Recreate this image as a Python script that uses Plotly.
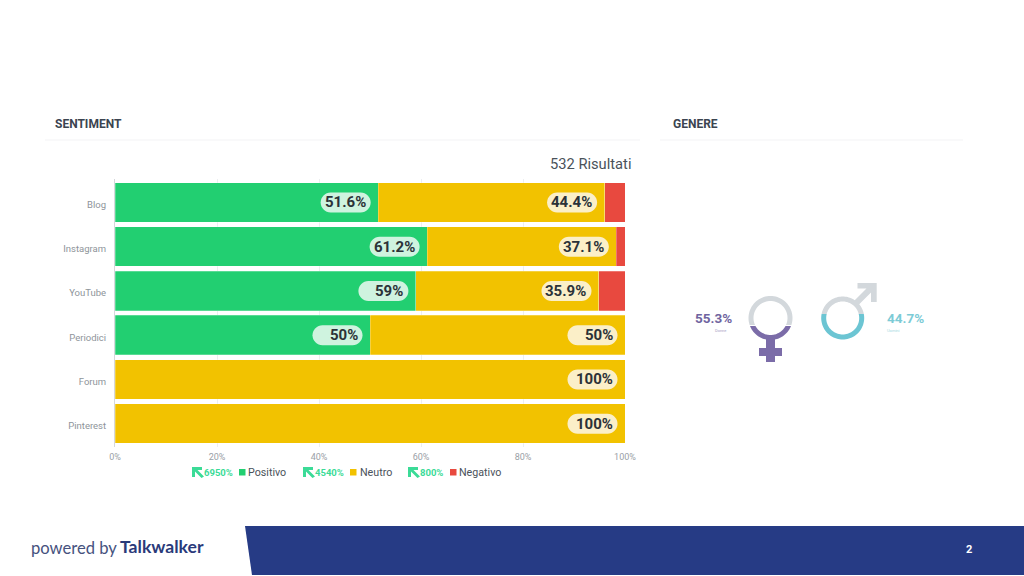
import math
import plotly.graph_objects as go

categories = ["Blog", "Instagram", "YouTube", "Periodici", "Forum", "Pinterest"]
positivo = [51.6, 61.2, 59, 50, 0, 0]
neutro = [44.4, 37.1, 35.9, 50, 100, 100]
negativo = [4.0, 1.7, 5.1, 0, 0, 0]
tick_values = [0, 20, 40, 60, 80, 100]
tick_labels = ["0%", "20%", "40%", "60%", "80%", "100%"]
legend_items = [("6950%", "Positivo"), ("4540%", "Neutro"), ("800%", "Negativo")]
gender_values = ["55.3%", "44.7%"]
gender_names = ["Donne", "Uomini"]

W, H = 1024, 576
GREEN, YELLOW, RED = "#22CF71", "#F2C200", "#E8493F"
PURPLE, TEAL, GREY = "#7B6CA8", "#6CC5D3", "#D3D8DC"
FONT = "Roboto"


def px(x):
    return x / W


def py(y):
    return 1 - y / H


def poly(points):
    return "M" + " L".join(f"{px(x):.5f},{py(y):.5f}" for x, y in points) + " Z"


def rect(x0, y0, x1, y1, color):
    return dict(type="rect", xref="paper", yref="paper", x0=px(x0), x1=px(x1),
                y0=py(y0), y1=py(y1), fillcolor=color, line_width=0, layer="above")


def path(points, color):
    return dict(type="path", xref="paper", yref="paper", path=poly(points),
                fillcolor=color, line_width=0, layer="above")


def ring_part(cx, cy, r_out, r_in, ys, lower=True):
    """Part of a ring below (or above) the horizontal line y = ys."""
    pts_out, pts_in = [], []
    n = 48
    for radius, store in ((r_out, pts_out), (r_in, pts_in)):
        a0 = math.asin(max(-1, min(1, (ys - cy) / radius)))
        start, end = (a0, math.pi - a0) if lower else (a0, -math.pi - a0)
        for i in range(n + 1):
            a = start + (end - start) * i / n
            store.append((cx + radius * math.cos(a), cy + radius * math.sin(a)))
    return pts_out + pts_in[::-1]


def text(x, y, s, size, color, anchor="center", bold=False, family=FONT):
    return dict(xref="paper", yref="paper", x=px(x), y=py(y), text=f"<b>{s}</b>" if bold else s,
                showarrow=False, xanchor=anchor, yanchor="middle",
                font=dict(size=size, color=color, family=family), borderpad=0, borderwidth=0)


fig = go.Figure()
for name, vals, col in (("Positivo", positivo, GREEN), ("Neutro", neutro, YELLOW), ("Negativo", negativo, RED)):
    fig.add_trace(go.Bar(name=name, y=categories, x=vals, orientation="h",
                         marker=dict(color=col, line=dict(color="rgba(255,255,255,0.5)", width=0.5)),
                         showlegend=False))

shapes = []
annotations = []

# value pills, anchored on the bar ends through the axes
PILL_W, PILL_H, GAP = 50, 20, 7.5
r = PILL_H / 2
pill_path = (f"M{-GAP - r},{-r} L{-GAP - PILL_W + r},{-r} "
             f"C{-GAP - PILL_W + r * .45},{-r} {-GAP - PILL_W},{-r * .55} {-GAP - PILL_W},0 "
             f"C{-GAP - PILL_W},{r * .55} {-GAP - PILL_W + r * .45},{r} {-GAP - PILL_W + r},{r} "
             f"L{-GAP - r},{r} "
             f"C{-GAP - r * .45},{r} {-GAP},{r * .55} {-GAP},0 "
             f"C{-GAP},{-r * .55} {-GAP - r * .45},{-r} {-GAP - r},{-r} Z")
for i, cat in enumerate(categories):
    cum = 0
    for vals, fill in ((positivo, "#CFF3DF"), (neutro, "#FBEFC8")):
        v = vals[i]
        cum += v
        if v <= 0:
            continue
        shapes.append(dict(type="path", xref="x", yref="y", xsizemode="pixel", ysizemode="pixel",
                           xanchor=cum, yanchor=cat, path=pill_path, fillcolor=fill,
                           line_width=0, layer="above"))
        annotations.append(dict(xref="x", yref="y", x=cum, y=cat, text=f"<b>{v:g}%</b>", showarrow=False,
                                xanchor="right", yanchor="middle", xshift=-GAP - 3, yshift=0,
                                font=dict(size=15, color="#2B3238", family=FONT)))

# headers
annotations += [
    text(55, 124, "SENTIMENT", 12, "#3B4450", "left", True),
    text(673, 124, "GENERE", 12, "#3B4450", "left", True),
    text(631, 164, "532 Risultati", 14.7, "#4A525A", "right"),
]
shapes += [rect(45, 139.5, 640, 140.5, "#F3F4F5"), rect(660, 139.5, 963, 140.5, "#F3F4F5")]

# legend row
ICON_X = [192, 303, 408]
PCT_X = [204, 315, 420]
SQ_X = [239, 350, 450]
LBL_X = [248, 360, 459]
SQ_COL = [GREEN, YELLOW, RED]
ARROW = "#3BDB97"
for (pct, lbl), ix, tx, sx, lx, c in zip(legend_items, ICON_X, PCT_X, SQ_X, LBL_X, SQ_COL):
    y0 = 467
    shapes.append(path([(ix, y0), (ix + 10, y0), (ix + 10, y0 + 3), (ix + 5.5, y0 + 3),
                        (ix + 12, y0 + 9.5), (ix + 9.5, y0 + 11), (ix + 3, y0 + 4.5),
                        (ix + 3, y0 + 10), (ix, y0 + 10)], ARROW))
    annotations.append(text(tx, 472.5, f"<b>{pct}</b>", 9.5, ARROW, "left"))
    shapes.append(rect(sx, 469, sx + 6.5, 475.5, c))
    annotations.append(text(lx, 472.5, lbl, 10.7, "#4A525A", "left"))

# gender icons
fc = (770.5, 318)
mc = (842.7, 318)
shapes += [
    path(ring_part(fc[0], fc[1], 22, 17, 325, lower=False), GREY),
    path(ring_part(fc[0], fc[1], 22, 17, 326, lower=True), PURPLE),
    rect(766, 338, 775, 362, PURPLE),
    rect(759, 348, 782, 356, PURPLE),
    path(ring_part(mc[0], mc[1], 21.5, 16.5, 314, lower=False), GREY),
    path(ring_part(mc[0], mc[1], 21.5, 16.5, 314, lower=True), TEAL),
    path([(857.5, 283), (876.7, 283), (876.7, 302), (871, 302), (871, 292.5),
          (858, 305.5), (854, 301), (866.5, 288.5), (857.5, 288.5)], GREY),
]
annotations += [
    text(713.5, 318, f"<b>{gender_values[0]}</b>", 13.5, "#6F64A0"),
    text(726, 330, gender_names[0], 4, "#A9A4C6", "right"),
    text(905, 318, f"<b>{gender_values[1]}</b>", 13.5, "#7CCBD6"),
    text(887, 330, gender_names[1], 4, "#A5D9E2", "left"),
]

# footer
shapes.append(path([(245, 526), (1024, 526), (1024, 575), (252, 575)], "#263B85"))
annotations += [
    text(969, 549, "2", 11, "#FFFFFF", "center", True),
    text(31, 547.5, "powered by", 16.6, "#46527E", "left", family="Lato"),
    text(120, 546.5, "Talkwalker", 17.6, "#2A3A7A", "left", True, family="Lato"),
]

fig.update_layout(
    width=W, height=H, autosize=False, margin=dict(l=0, r=0, t=0, b=0, pad=0, autoexpand=False),
    paper_bgcolor="white", plot_bgcolor="white", barmode="stack", bargap=0.108,
    font=dict(family=FONT),
    xaxis=dict(domain=[115 / W, 625 / W], range=[0, 100], anchor="y", tickvals=tick_values, ticktext=tick_labels,
               showgrid=True, gridcolor="#ECEEF0", gridwidth=1, zeroline=False, showline=False,
               automargin=False, tickfont=dict(size=9, color="#9AA0A6"), ticks="", ticklabelstandoff=3),
    yaxis=dict(domain=[1 - 447 / H, 1 - 179 / H], range=[5.526, -0.529], type="category",
               categoryorder="array", categoryarray=categories, anchor="x", automargin=False,
               showgrid=False, zeroline=False, showline=True, linecolor="#D5D8DB", linewidth=1,
               tickfont=dict(size=9.5, color="#8E949A"), ticks="", ticklabelstandoff=6, ticklabelshift=-2),
    shapes=shapes, annotations=annotations,
)
fig.write_html("out.html", config={"displayModeBar": False},
               post_script="document.body.style.margin='0';document.body.style.overflow='hidden';")
